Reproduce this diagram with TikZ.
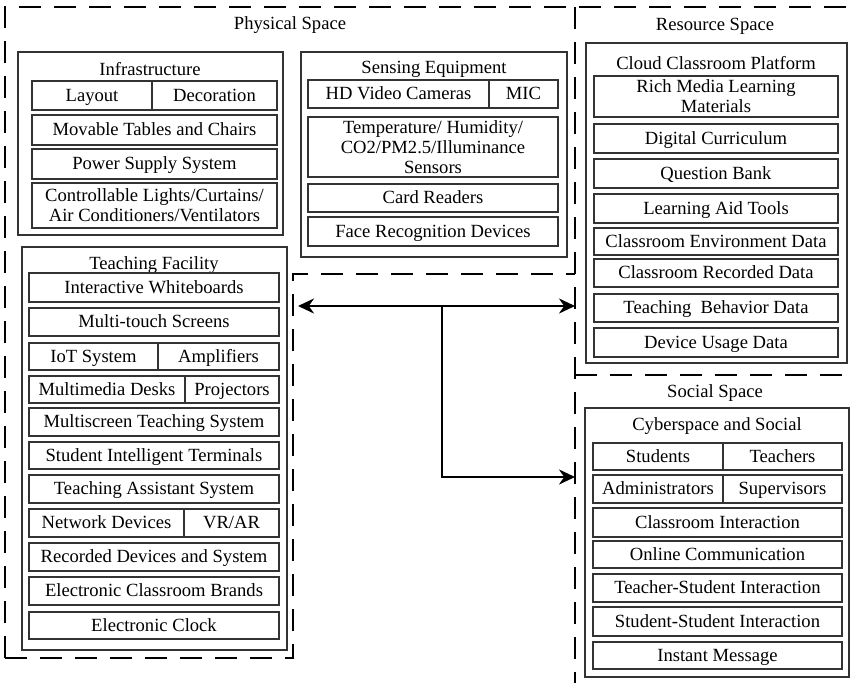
\documentclass[tikz,border=0pt]{standalone}
\usepackage{fontspec}
\setmainfont{Liberation Serif}
\usetikzlibrary{arrows.meta}

\begin{document}
\begin{tikzpicture}[x=1pt,y=-1pt,
        font=\fontsize{18.6}{20}\selectfont,
        space/.style={line width=1.6pt,dash pattern=on 22pt off 13pt},
        group/.style={line width=1.2pt,draw=black!80},
        item/.style={line width=1.2pt,draw=black!80},
        lbl/.style={text height=14pt,text depth=3pt,inner sep=0pt},
        link/.style={line width=2.6pt,-{Stealth[length=16pt,width=15pt]}}]
        \useasboundingbox (0,0) rectangle (852,683);
        % the three spaces
        \draw[space] (5,658) -- (5,7) -- (852,7);
        \draw[space] (5,658) -- (293,658) -- (293,274) -- (575,274);
        \draw[space] (575,7) -- (575,683);
        \draw[space] (575,375) -- (852,375);
        \node (phys) at (290,25) {Physical Space};
        \node (res)  at (715,26) {Resource Space};
        \node (soc)  at (715,393) {Social Space};

        % infrastructure
        \draw[group] (18,52) rectangle (283,235);
        \node (infra) at (150,69) {Infrastructure};
        \draw[item] (32,81) rectangle (152,110) node[midway,lbl] (lay) {Layout};
        \draw[item] (152,81) rectangle (277,110) node[midway,lbl] (deco) {Decoration};
        \draw[item] (32,115) rectangle (277,145) node[midway,lbl] (tab) {Movable Tables and Chairs};
        \draw[item] (32,149) rectangle (277,179) node[midway,lbl] (pow) {Power Supply System};
        \draw[item] (32,183) rectangle (277,228) node[midway,align=center] (ctrl) {Controllable Lights/Curtains/\\Air Conditioners/Ventilators};

        % sensing equipment
        \draw[group] (301,52) rectangle (567,257);
        \node (sens) at (434,69) {Sensing Equipment};
        \draw[item] (308,80) rectangle (489,108) node[midway,lbl] (cam) {HD Video Cameras};
        \draw[item] (489,80) rectangle (558,108) node[midway,lbl] (mic) {MIC};
        \draw[item] (308,117) rectangle (558,177) node[midway,align=center] (env) {Temperature/ Humidity/\\CO2/PM2.5/Illuminance\\Sensors};
        \draw[item] (308,184) rectangle (558,212) node[midway,lbl] (card) {Card Readers};
        \draw[item] (308,217) rectangle (558,246) node[midway,lbl] (face) {Face Recognition Devices};

        % teaching facility
        \draw[group] (22,247) rectangle (287,650);
        \node (teach) at (154,265) {Teaching Facility};
        \draw[item] (29,273) rectangle (279,302) node[midway,lbl] (wb) {Interactive Whiteboards};
        \draw[item] (29,308) rectangle (279,336) node[midway,lbl] (touch) {Multi-touch Screens};
        \draw[item] (29,343) rectangle (158,370) node[midway,lbl] (iot) {IoT System};
        \draw[item] (158,343) rectangle (279,370) node[midway,lbl] (amp) {Amplifiers};
        \draw[item] (29,376) rectangle (185,403) node[midway,lbl] (desk) {Multimedia Desks};
        \draw[item] (185,376) rectangle (279,403) node[midway,lbl] (proj) {Projectors};
        \draw[item] (29,408) rectangle (279,436) node[midway,lbl] (multi) {Multiscreen Teaching System};
        \draw[item] (29,442) rectangle (279,469) node[midway,lbl] (term) {Student Intelligent Terminals};
        \draw[item] (29,475) rectangle (279,503) node[midway,lbl] (assist) {Teaching Assistant System};
        \draw[item] (29,509) rectangle (184,537) node[midway,lbl] (net) {Network Devices};
        \draw[item] (184,509) rectangle (279,537) node[midway,lbl] (vr) {VR/AR};
        \draw[item] (29,543) rectangle (279,571) node[midway,lbl] (rec) {Recorded Devices and System};
        \draw[item] (29,577) rectangle (279,605) node[midway,lbl] (brand) {Electronic Classroom Brands};
        \draw[item] (29,612) rectangle (279,639) node[midway,lbl] (clock) {Electronic Clock};

        % cloud classroom platform
        \draw[group] (586,43) rectangle (847,363);
        \node (cloud) at (716,63) {Cloud Classroom Platform};
        \draw[item] (594,76) rectangle (838,117) node[midway,align=center] (media) {Rich Media Learning\\Materials};
        \draw[item] (594,124) rectangle (838,153) node[midway,lbl] (curr) {Digital Curriculum};
        \draw[item] (594,159) rectangle (838,188) node[midway,lbl] (bank) {Question Bank};
        \draw[item] (594,194) rectangle (838,223) node[midway,lbl] (aid) {Learning Aid Tools};
        \draw[item] (594,228) rectangle (838,255) node[midway,lbl] (envd) {Classroom Environment Data};
        \draw[item] (594,259) rectangle (838,287) node[midway,lbl] (recd) {Classroom Recorded Data};
        \draw[item] (594,294) rectangle (838,322) node[midway,lbl] (behav) {Teaching\ \ Behavior Data};
        \draw[item] (594,328) rectangle (838,357) node[midway,lbl] (usage) {Device Usage Data};

        % cyberspace and social
        \draw[group] (585,408) rectangle (849,677);
        \node (cyber) at (717,426) {Cyberspace and Social};
        \draw[item] (593,443) rectangle (723,470) node[midway,lbl] (stu) {Students};
        \draw[item] (723,443) rectangle (842,470) node[midway,lbl] (tea) {Teachers};
        \draw[item] (593,475) rectangle (723,503) node[midway,lbl] (adm) {Administrators};
        \draw[item] (723,475) rectangle (842,503) node[midway,lbl] (sup) {Supervisors};
        \draw[item] (593,508) rectangle (842,537) node[midway,lbl] (inter) {Classroom Interaction};
        \draw[item] (593,541) rectangle (842,568) node[midway,lbl] (online) {Online Communication};
        \draw[item] (593,574) rectangle (842,602) node[midway,lbl] (ts) {Teacher-Student Interaction};
        \draw[item] (593,607) rectangle (842,636) node[midway,lbl] (ss) {Student-Student Interaction};
        \draw[item] (593,642) rectangle (842,669) node[midway,lbl] (im) {Instant Message};

        % links between the spaces
        \coordinate (physR) at (298,306);
        \coordinate (resL)  at (575,306);
        \coordinate (hub)   at (442,306);
        \coordinate (socL)  at (575,477);
        \draw[link,{Stealth[length=16pt,width=15pt]}-{Stealth[length=16pt,width=15pt]}] (physR) -- (resL);
        \draw[link] (hub) |- (socL);
\end{tikzpicture}
\end{document}
